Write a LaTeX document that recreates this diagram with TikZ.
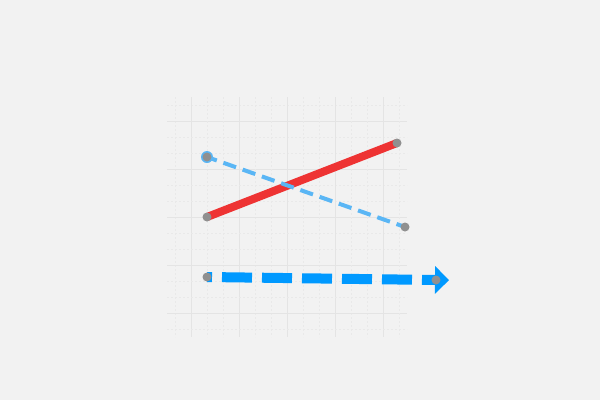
\documentclass[tikz,border=0pt]{standalone}
\usetikzlibrary{arrows.meta}
\definecolor{bg}{HTML}{F2F2F2}
\definecolor{gridmajor}{HTML}{E4E4E4}
\definecolor{gridminor}{HTML}{E9E9E9}
\definecolor{redline}{HTML}{EE3333}
\definecolor{lightblue}{HTML}{5AB6F5}
\definecolor{strongblue}{HTML}{0099FF}
\definecolor{dotgray}{HTML}{909090}
\tikzset{
  dotmark/.style={circle,fill=dotgray,inner sep=0pt,minimum size=9pt},
  ringmark/.style={circle,fill=lightblue,inner sep=0pt,minimum size=12pt},
  majorgrid/.style={draw=gridmajor,line width=1pt},
  minorgrid/.style={draw=gridminor,line width=0.8pt,dash pattern=on 2pt off 2pt},
  redstroke/.style={draw=redline,line width=8pt},
  thinblue/.style={draw=lightblue,line width=4pt,dash pattern=on 13.4pt off 7pt,dash phase=3pt},
  thickblue/.style={draw=strongblue,line width=10pt,dash pattern=on 30pt off 10pt,dash phase=25pt},
}
\begin{document}
\begin{tikzpicture}[x=1pt,y=-1pt]
\fill[bg] (0,0) rectangle (600,400);
\useasboundingbox (0,0) rectangle (600,400);
% grid
\begin{scope}
\clip (167,97) rectangle (407,337);
\foreach \i in {0,...,14} {
  \pgfmathtruncatemacro{\m}{mod(\i-1,3)}
  \ifnum\m=0
    \draw[majorgrid] (175+16*\i,97) -- (175+16*\i,337);
    \draw[majorgrid] (167,105+16*\i) -- (407,105+16*\i);
  \else
    \draw[minorgrid] (175+16*\i,97) -- (175+16*\i,337);
    \draw[minorgrid] (167,105+16*\i) -- (407,105+16*\i);
  \fi
}
\end{scope}
% points
\coordinate (rA) at (207,217);
\coordinate (rB) at (397,143);
\coordinate (bA) at (207,157);
\coordinate (bB) at (405,227);
\coordinate (tA) at (207,277);
\coordinate (tB) at (436,280);
% lines
\draw[redstroke] (rA) -- (rB);
\draw[thinblue] (bA) -- (bB);
\draw[thickblue,-{Triangle[length=14pt,width=27pt]},shorten >=-13pt] (tA) -- (tB);
% markers
\node[ringmark] (ring) at (bA) {};
\node[dotmark] (d1) at (rA) {};
\node[dotmark] (d2) at (rB) {};
\node[dotmark] (d3) at (bA) {};
\node[dotmark] (d4) at (bB) {};
\node[dotmark] (d5) at (tA) {};
\node[dotmark] (d6) at (tB) {};
\end{tikzpicture}
\end{document}
